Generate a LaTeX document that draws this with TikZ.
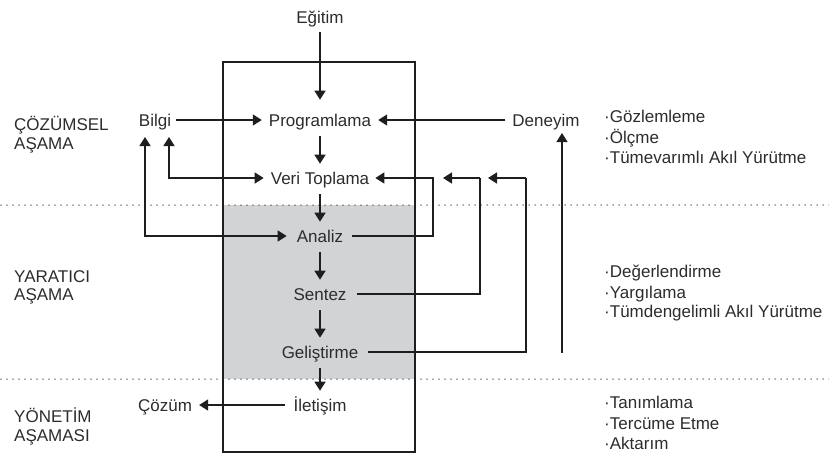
\documentclass[tikz,border=0pt]{standalone}
\usepackage{fontspec}
\setmainfont{Liberation Sans}
\usetikzlibrary{arrows.meta}
\definecolor{txt}{HTML}{2C2C2C}
\definecolor{ln}{HTML}{1E1E1E}
\definecolor{zonegray}{HTML}{D2D3D5}
\definecolor{dotc}{HTML}{444444}
\begin{document}
\begin{tikzpicture}[x=1pt,y=-1pt,
  every node/.style={font=\fontsize{17}{20}\selectfont, text=txt, inner sep=0pt, text height=12.2pt, text depth=0pt},
  lbl/.style={anchor=west},
  conn/.style={draw=ln, line width=1.4pt, -{Triangle[length=9pt,width=11pt]}},
  dconn/.style={draw=ln, line width=1.4pt, {Triangle[length=9pt,width=11pt]}-{Triangle[length=9pt,width=11pt]}},
  plain/.style={draw=ln, line width=1.4pt},
  chain/.style={conn, shorten <=10pt, shorten >=8pt},
  sepline/.style={draw=dotc, line width=1.5pt, line cap=round, dash pattern=on 0pt off 6pt}
]
\useasboundingbox (0,0) rectangle (829,456);
% shaded creative zone
\fill[zonegray] (223,205) rectangle (415,379);
% separators
\draw[sepline] (1,205) -- (829,205);
\draw[sepline] (1,379) -- (829,379);
% main box
\draw[ln, line width=1.5pt] (223,62) rectangle (415,452);

% center column
\node (egitim) at (320,17.5) {Eğitim};
\node (prog) at (320,120) {Programlama};
\node (veri) at (320,178) {Veri Toplama};
\node (analiz) at (320,236) {Analiz};
\node (sentez) at (320,294) {Sentez};
\node (gel) at (320,352) {Geliştirme};
\node (ilet) at (320,405) {İletişim};

% side nodes
\node (bilgi) at (155,120) {Bilgi};
\node (deneyim) at (546,120) {Deneyim};
\node (cozum) at (165,405) {Çözüm};

% left labels
\node[lbl] (l1a) at (14,124) {ÇÖZÜMSEL};
\node[lbl] (l1b) at (14,143) {AŞAMA};
\node[lbl] (l2a) at (14,276) {YARATICI};
\node[lbl] (l2b) at (14,294) {AŞAMA};
\node[lbl] (l3a) at (14,416) {YÖNETİM};
\node[lbl] (l3b) at (14,435) {AŞAMASI};

% right lists
\node[lbl] (r1a) at (604,116) {·Gözlemleme};
\node[lbl] (r1b) at (604,137) {·Ölçme};
\node[lbl] (r1c) at (604,157) {·Tümevarımlı Akıl Yürütme};
\node[lbl] (r2a) at (604,271) {·Değerlendirme};
\node[lbl] (r2b) at (604,292) {·Yargılama};
\node[lbl] (r2c) at (604,311) {·Tümdengelimli Akıl Yürütme};
\node[lbl] (r3a) at (604,402) {·Tanımlama};
\node[lbl] (r3b) at (604,423) {·Tercüme Etme};
\node[lbl] (r3c) at (604,443) {·Aktarım};

% free-end coordinates
\coordinate (bv) at (169,137);
\coordinate (ba) at (145,137);
\coordinate (ka) at (433,178);
\coordinate (ks) at (480,178);
\coordinate (ksEnd) at (443,178);
\coordinate (kg) at (526,178);
\coordinate (kgEnd) at (488,178);
\coordinate (up0) at (562,353);
\coordinate (up1) at (562,133);

% vertical chain
\draw[conn, shorten <=8pt, shorten >=14pt] (egitim) -- (prog);
\draw[chain] (prog) -- (veri);
\draw[chain] (veri) -- (analiz);
\draw[chain] (analiz) -- (sentez);
\draw[chain] (sentez) -- (gel);
\draw[chain] (gel) -- (ilet);

% horizontal connectors
\draw[conn, shorten <=5pt, shorten >=7pt] (bilgi.east) -- (prog.west);
\draw[conn, shorten <=7pt, shorten >=7pt] (deneyim.west) -- (prog.east);
\draw[conn, shorten <=8pt, shorten >=7pt] (ilet.west) -- (cozum.east);

% Bilgi feedback loops
\draw[dconn, shorten >=7pt] (bv) |- (veri.west);
\draw[dconn, shorten >=10pt] (ba) |- (analiz.west);

% right loops back to Veri Toplama
\draw[conn, shorten <=9pt, shorten >=6pt] (analiz.east) -| (ka) -- (veri.east);
\draw[plain, shorten <=10pt] (sentez.east) -| (ks);
\draw[conn] (ks) -- (ksEnd);
\draw[plain, shorten <=10pt] (gel.east) -| (kg);
\draw[conn] (kg) -- (kgEnd);

% experience arrow
\draw[conn] (up0) -- (up1);
\end{tikzpicture}
\end{document}
